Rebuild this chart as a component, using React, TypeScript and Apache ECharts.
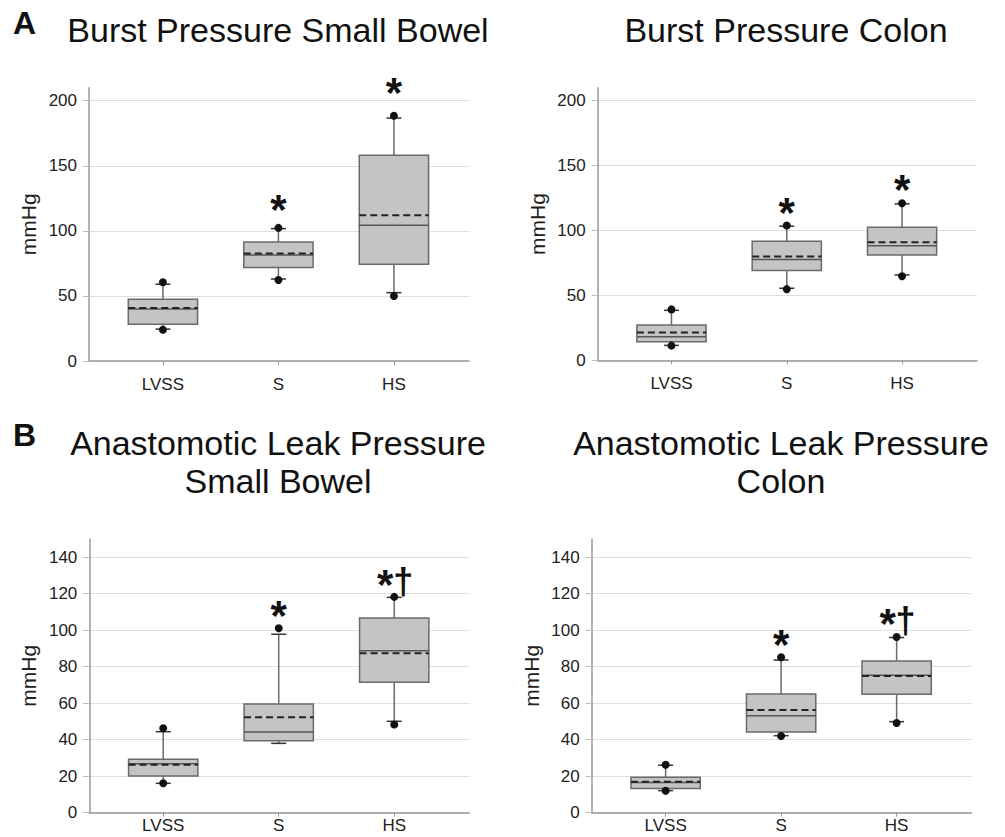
import { useEffect, useRef } from 'react';
import * as echarts from 'echarts';

const categories = ['LVSS', 'S', 'HS'];
const categoryPositions = [1, 2, 3];

// each row: [capLow, q1, median, q3, capHigh, mean, dotLow, dotHigh]
const burstSmallBowel = [
  [24.5, 28.2, 40, 47.4, 59, 40.8, 24, 60.5],
  [63, 71.8, 81.5, 91.5, 101.7, 82.6, 62.3, 102.3],
  [52.5, 74.4, 104.4, 158, 186.7, 112, 50, 188.5],
];
const burstColon = [
  [11.5, 14.3, 18.2, 27.2, 38.5, 21.5, 11.3, 39.2],
  [55.5, 69.2, 77.7, 91.8, 103.3, 80, 54.8, 103.8],
  [65.8, 81.2, 88.2, 102.5, 120.5, 91, 64.8, 121],
];
const leakSmallBowel = [
  [16.1, 20.1, 26.8, 29.3, 44.4, 26.3, 16.1, 46.3],
  [38.0, 39.5, 44.2, 59.6, 97.8, 52.3, null, 101.1],
  [50.1, 71.5, 88.8, 106.7, 118, 87.4, 48.3, 118.3],
];
const leakColon = [
  [12.1, 13.2, 16.6, 19.4, 26, 17, 12, 26.3],
  [42.2, 44.2, 53.2, 65.1, 83.7, 56.3, 42, 85.2],
  [49.9, 64.9, 75.3, 83.2, 96, 74.9, 49.2, 96.3],
];

const burstSmallBowelMarks = ['', '*', '*'];
const burstSmallBowelMarkY = [null, 120, 209.8];
const burstColonMarks = ['', '*', '*'];
const burstColonMarkY = [null, 118, 135.6];
const leakSmallBowelMarks = ['', '*', '*†'];
const leakSmallBowelMarkY = [null, 111, 127.6];
const leakColonMarks = ['', '*', '*†'];
const leakColonMarkY = [null, 94.7, 106.6];

const burstTicks = [0, 50, 100, 150, 200];
const leakTicks = [0, 20, 40, 60, 80, 100, 120, 140];

const FONT = "'Liberation Sans', Arial, Helvetica, sans-serif";

function buildData(rows: (number | null)[][], markY: (number | null)[]) {
  return rows.map((r, i) => [categoryPositions[i], ...r.map((v) => (v == null ? '-' : v)), markY[i] == null ? '-' : markY[i]]);
}

function makeRenderItem(marks: string[]) {
  return (params: any, api: any) => {
    const x = api.value(0);
    const v = (i: number) => api.value(i);
    const py = (val: number) => api.coord([x, val])[1];
    const cx = api.coord([x, 0])[0];
    const halfBox = api.size([0.3, 0])[0];
    const halfCap = api.size([0.065, 0])[0];
    const capLow = v(1), q1 = v(2), med = v(3), q3 = v(4), capHigh = v(5), mean = v(6), dotLow = v(7), dotHigh = v(8), markY = v(9);
    const children: any[] = [];
    const whiskerStyle = { stroke: '#6a6a6a', lineWidth: 1.5 };
    children.push({ type: 'line', shape: { x1: cx, y1: py(capLow), x2: cx, y2: py(q1) }, style: whiskerStyle });
    children.push({ type: 'line', shape: { x1: cx, y1: py(q3), x2: cx, y2: py(capHigh) }, style: whiskerStyle });
    children.push({ type: 'line', shape: { x1: cx - halfCap, y1: py(capLow), x2: cx + halfCap, y2: py(capLow) }, style: { stroke: '#333', lineWidth: 1.5 } });
    children.push({ type: 'line', shape: { x1: cx - halfCap, y1: py(capHigh), x2: cx + halfCap, y2: py(capHigh) }, style: { stroke: '#333', lineWidth: 1.5 } });
    children.push({
      type: 'rect',
      shape: { x: cx - halfBox, y: py(q3), width: halfBox * 2, height: py(q1) - py(q3) },
      style: { fill: '#c4c4c4', stroke: '#6a6a6a', lineWidth: 1.5 },
    });
    children.push({ type: 'line', shape: { x1: cx - halfBox, y1: py(med), x2: cx + halfBox, y2: py(med) }, style: { stroke: '#555', lineWidth: 1.5 } });
    children.push({ type: 'line', shape: { x1: cx - halfBox, y1: py(mean), x2: cx + halfBox, y2: py(mean) }, style: { stroke: '#222', lineWidth: 2, lineDash: [7, 4] } });
    if (!isNaN(dotLow)) children.push({ type: 'circle', shape: { cx, cy: py(dotLow), r: 4 }, style: { fill: '#111' } });
    if (!isNaN(dotHigh)) children.push({ type: 'circle', shape: { cx, cy: py(dotHigh), r: 4 }, style: { fill: '#111' } });
    const mark = marks[params.dataIndex];
    if (mark && !isNaN(markY)) {
      const my = py(markY);
      const hasDagger = mark.indexOf('†') >= 0;
      const starX = hasDagger ? cx - 9 : cx;
      children.push({
        type: 'text',
        x: starX,
        y: my + 5,
        style: { text: '*', fill: '#111', fontSize: 42, fontWeight: 'bold', fontFamily: FONT, align: 'center', verticalAlign: 'middle' },
      });
      if (hasDagger) {
        children.push({
          type: 'text',
          x: cx + 9,
          y: my + 2,
          style: { text: '†', fill: '#111', fontSize: 36, fontWeight: 'bold', fontFamily: FONT, align: 'center', verticalAlign: 'middle' },
        });
      }
    }
    return { type: 'group', children };
  };
}

export default function App() {
  const ref = useRef<HTMLDivElement>(null);
  useEffect(() => {
    if (!ref.current) return;
    const chart = echarts.init(ref.current, undefined, { renderer: 'svg' });

    const grids = [
      { left: 89, top: 87.7, width: 380, height: 273.3 },
      { left: 597.7, top: 87.7, width: 379.3, height: 272.6 },
      { left: 89.3, top: 539, width: 380, height: 273.7 },
      { left: 591.7, top: 539, width: 380, height: 273.7 },
    ].map((g) => ({ ...g, outerBoundsMode: 'none', containLabel: false }));

    const panels = [
      { rows: burstSmallBowel, marks: burstSmallBowelMarks, markY: burstSmallBowelMarkY, max: 210, interval: 50, ticks: burstTicks, labelMargin: 15 },
      { rows: burstColon, marks: burstColonMarks, markY: burstColonMarkY, max: 210, interval: 50, ticks: burstTicks, labelMargin: 15 },
      { rows: leakSmallBowel, marks: leakSmallBowelMarks, markY: leakSmallBowelMarkY, max: 150, interval: 20, ticks: leakTicks, labelMargin: 4 },
      { rows: leakColon, marks: leakColonMarks, markY: leakColonMarkY, max: 150, interval: 20, ticks: leakTicks, labelMargin: 4 },
    ];

    const xAxis = panels.map((p, i) => ({
      type: 'value',
      gridIndex: i,
      min: 0.36,
      max: 3.65,
      axisLine: { show: true, onZero: false, lineStyle: { color: '#999', width: 1.5 } },
      axisTick: { show: true, customValues: categoryPositions, length: 4, lineStyle: { color: '#999' } },
      axisLabel: {
        customValues: categoryPositions,
        formatter: (val: number) => categories[Math.round(val) - 1] ?? '',
        fontSize: 17,
        color: '#222',
        fontFamily: FONT,
        margin: p.labelMargin,
      },
      splitLine: { show: false },
    }));

    const yAxis = panels.map((p, i) => ({
      type: 'value',
      gridIndex: i,
      min: 0,
      max: p.max,
      interval: p.interval,
      name: 'mmHg',
      nameLocation: 'middle',
      nameGap: 50,
      nameTextStyle: { fontSize: 21, color: '#222', fontFamily: FONT },
      axisLine: { show: true, lineStyle: { color: '#999', width: 1.5 } },
      axisTick: { show: true, customValues: p.ticks, length: 6, lineStyle: { color: '#bbb' } },
      axisLabel: { customValues: p.ticks, fontSize: 17, color: '#222', fontFamily: FONT, margin: 12 },
      splitLine: { show: true, lineStyle: { color: '#dedede', width: 1 } },
    }));

    const series = panels.map((p, i) => ({
      type: 'custom',
      xAxisIndex: i,
      yAxisIndex: i,
      clip: false,
      encode: { x: 0, y: [1, 2, 3, 4, 5, 6, 7, 8, 9] },
      data: buildData(p.rows, p.markY),
      renderItem: makeRenderItem(p.marks),
    }));

    const titleStyle = { fontSize: 34, fontWeight: 'normal', color: '#111', fontFamily: FONT, lineHeight: 38 };
    const letterStyle = { fontSize: 32, fontWeight: 'bold', color: '#111', fontFamily: FONT, lineHeight: 38 };

    chart.setOption({
      animation: false,
      backgroundColor: '#fff',
      title: [
        { text: 'A', left: 13, top: 4, padding: 0, textStyle: letterStyle },
        { text: 'Burst Pressure Small Bowel', left: 278, top: 11, textAlign: 'center', padding: 0, textStyle: titleStyle },
        { text: 'Burst Pressure Colon', left: 786, top: 11, textAlign: 'center', padding: 0, textStyle: titleStyle },
        { text: 'B', left: 13, top: 416, padding: 0, textStyle: letterStyle },
        { text: 'Anastomotic Leak Pressure\nSmall Bowel', left: 278, top: 424, textAlign: 'center', padding: 0, textStyle: titleStyle },
        { text: 'Anastomotic Leak Pressure\nColon', left: 781, top: 424, textAlign: 'center', padding: 0, textStyle: titleStyle },
      ],
      grid: grids,
      xAxis,
      yAxis,
      series,
    });

    return () => chart.dispose();
  }, []);

  return <div ref={ref} style={{ position: 'absolute', left: 0, top: 0, width: 1005, height: 837 }} />;
}
